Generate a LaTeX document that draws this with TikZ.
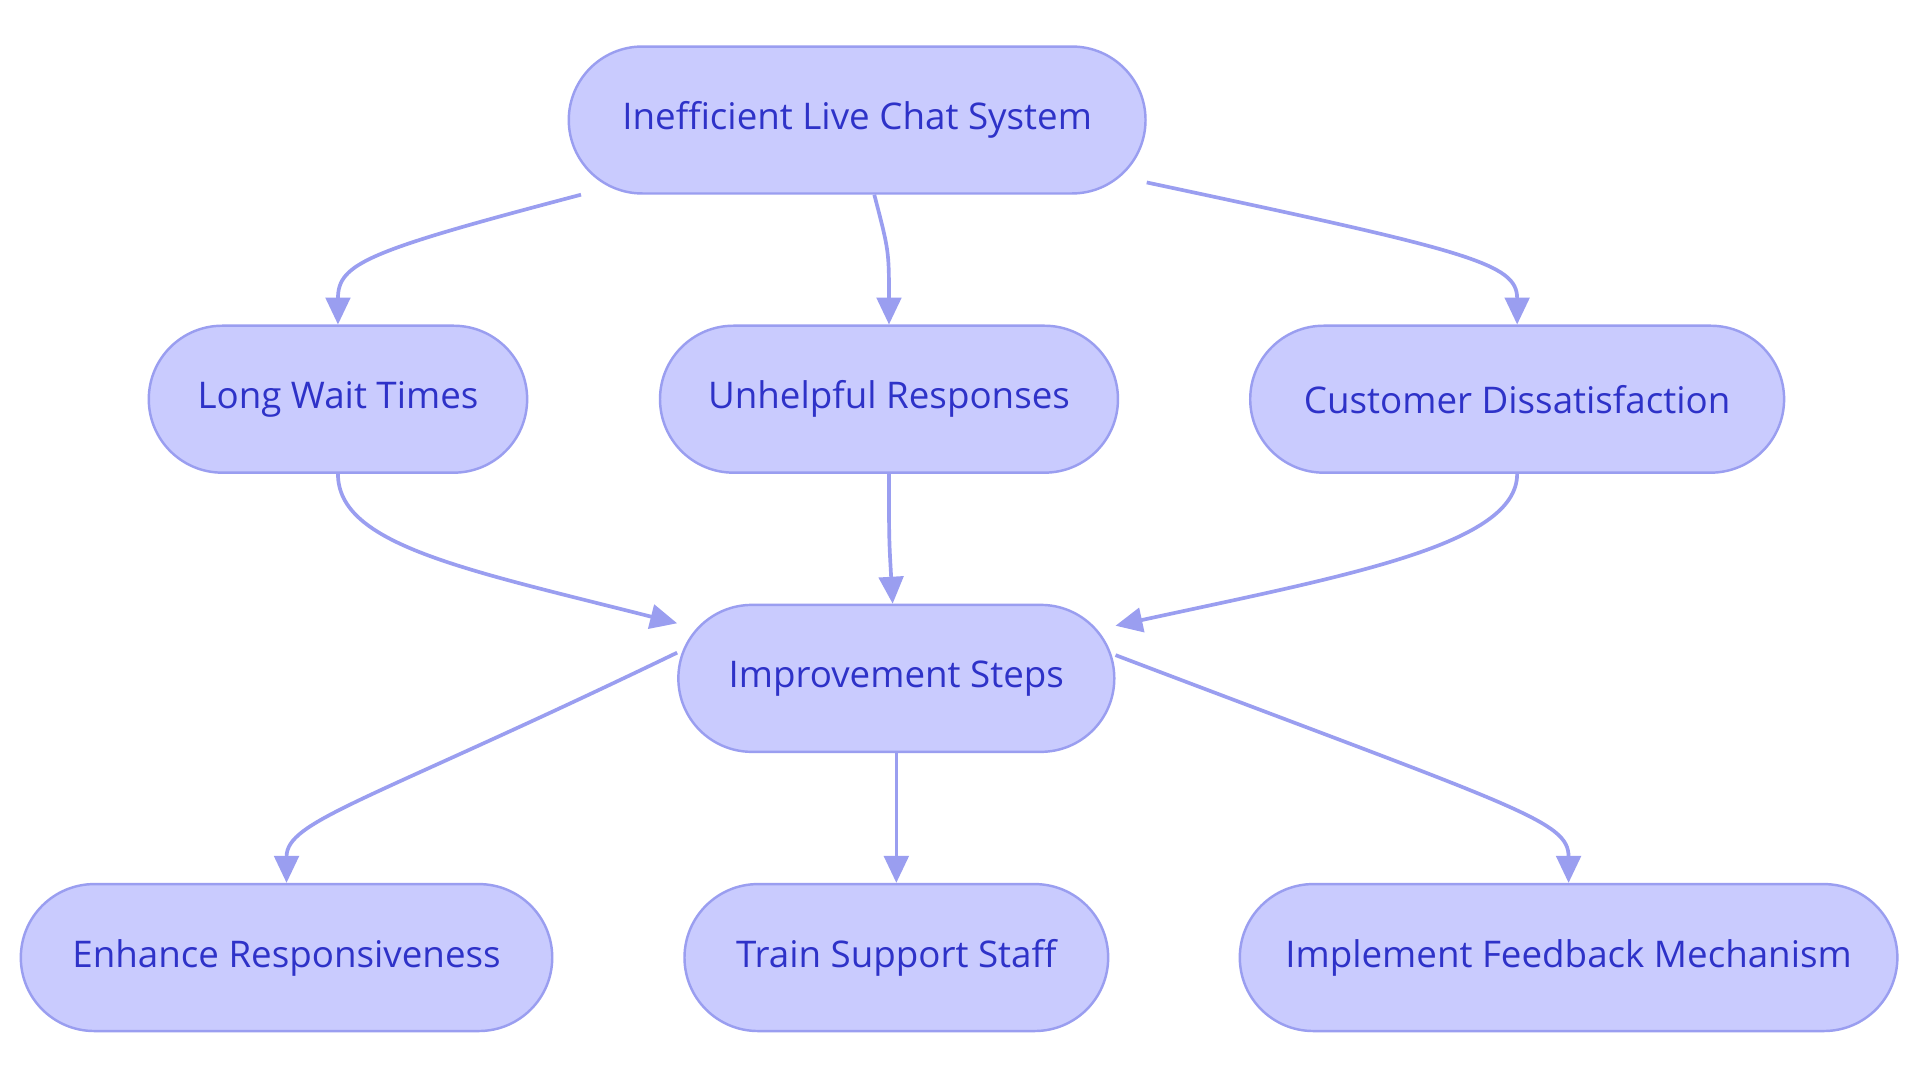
\documentclass[tikz,border=0pt]{standalone}
\usepackage{fontspec}
\setmainfont{Open Sans}
\usetikzlibrary{arrows.meta}
\definecolor{boxfill}{HTML}{C9CBFE}
\definecolor{boxline}{HTML}{9A9EF0}
\definecolor{boxtext}{HTML}{2E32C8}
\tikzset{
  chatbox/.style={draw=boxline, fill=boxfill, text=boxtext, line width=1pt,
    rounded corners=30pt, minimum height=60pt, font=\fontsize{15}{18}\selectfont},
  link/.style={draw=boxline, line width=1.5pt, -{Triangle[length=11pt,width=10pt]}}
}
\begin{document}
\begin{tikzpicture}[x=0.5pt,y=-0.5pt]
\useasboundingbox[fill=white] (0,0) rectangle (1568,884);
% Nodes
\node[chatbox, minimum width=235.5pt] (sys) at (700,98) {Inefficient Live Chat System};
\node[chatbox, minimum width=154.5pt] (wait) at (276,326) {Long Wait Times};
\node[chatbox, minimum width=187pt] (resp) at (726,326) {Unhelpful Responses};
\node[chatbox, minimum width=218pt] (diss) at (1239,326) {Customer Dissatisfaction};
\node[chatbox, minimum width=178pt] (steps) at (732,554) {Improvement Steps};
\node[chatbox, minimum width=217pt] (enh) at (234,782) {Enhance Responsiveness};
\node[chatbox, minimum width=173pt] (train) at (732,782) {Train Support Staff};
\node[chatbox, minimum width=268.5pt] (feed) at (1281,782) {Implement Feedback Mechanism};
% Connectors
\draw[link] ([xshift=5.5pt]sys.south west) .. controls (300,205) and (276,215) .. (wait.north);
\draw[link] ([xshift=7pt]sys.south) .. controls (726,205) .. (resp.north);
\draw[link] ([yshift=5pt]sys.south east) .. controls (1200,205) and (1239,215) .. (diss.north);
\draw[link] (wait.south) .. controls (276,445) and (380,465) .. ([yshift=-8pt]steps.north west);
\draw[link] (resp.south) .. controls (726,440) .. ([xshift=-1.5pt]steps.north);
\draw[link] (diss.south) .. controls (1239,445) and (1100,470) .. ([yshift=-9pt]steps.north east);
\draw[link] ([yshift=-20pt]steps.north west) .. controls (300,655) and (234,670) .. (enh.north);
\draw[link] (steps.south) -- (train.north);
\draw[link] ([yshift=-21pt]steps.north east) .. controls (1240,660) and (1281,670) .. (feed.north);
\end{tikzpicture}
\end{document}
